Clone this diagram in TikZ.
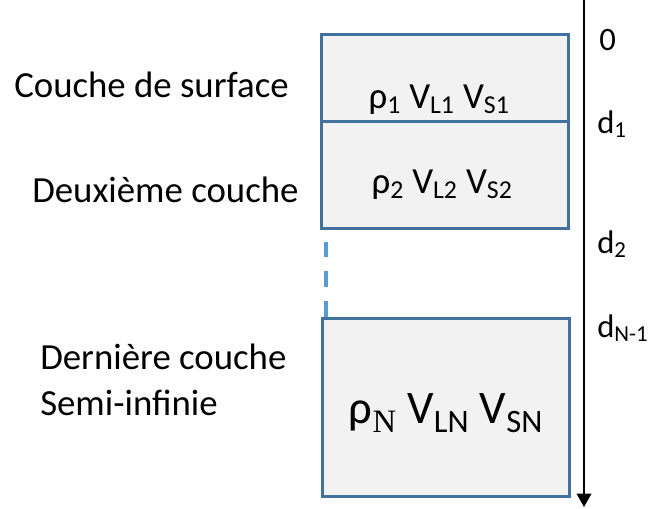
\documentclass[tikz,border=0pt]{standalone}
\usepackage{fontspec}
\setmainfont{Carlito}
\newfontfamily\serifN{Liberation Serif}
\usetikzlibrary{arrows.meta}
\definecolor{edge}{HTML}{41719C}
\definecolor{shade}{HTML}{F2F2F2}
\definecolor{gapblue}{HTML}{5B9BD5}

\begin{document}
\begin{tikzpicture}[x=.75pt,y=-.75pt,font=\fontsize{27.6}{33}\selectfont,
  layer/.style={draw=edge,fill=shade,line width=2pt,inner sep=0pt,anchor=north west,minimum width=185.25pt},
  lbl/.style={inner sep=0pt,anchor=base west},
  depth/.style={lbl,font=\fontsize{24.5}{29}\selectfont}]
\useasboundingbox (0,0) rectangle (648,508);
% layers
\node[layer,minimum height=65.25pt] (layer1) at (320,33) {};
\node[layer,minimum height=80.25pt] (layer2) at (320,120) {};
\node[layer,minimum height=133.5pt] (layerN) at (321,317) {};
\node[inner sep=0pt,anchor=base] (prop1) at (439,108) {ρ\textsubscript{1} V\textsubscript{L1} V\textsubscript{S1}};
\node[inner sep=0pt,anchor=base] (prop2) at (442,193) {ρ\textsubscript{2} V\textsubscript{L2} V\textsubscript{S2}};
\node[inner sep=0pt,anchor=base,font=\fontsize{35}{42}\selectfont] (propN) at (446,423) {ρ\textsubscript{\serifN N} V\textsubscript{LN} V\textsubscript{SN}};
% omitted layers
\coordinate (gapbot) at (326,317);
\coordinate (gaptop) at (326,242);
\draw[gapblue,line width=3pt,dash pattern=on 12pt off 10.5pt] (gapbot)--(gaptop);
% names
\node[lbl] (name1) at (14,97) {Couche de surface};
\node[lbl] (name2) at (32,202) {Deuxième couche};
\node[lbl] (nameN) at (40,369) {Dernière couche};
\node[lbl] (nameNb) at (40,415) {Semi-infinie};
% depth axis
\coordinate (axtop) at (584,0);
\coordinate (axbot) at (584,507);
\draw[line width=1pt,-{Triangle[width=11pt,length=10pt]}] (axtop)--(axbot);
\node[depth] (d0) at (599,50) {0};
\node[depth] (d1) at (597,133) {d\textsubscript{1}};
\node[depth] (d2) at (597,253) {d\textsubscript{2}};
\node[depth] (dN) at (597,337) {d\textsubscript{N-1}};
\end{tikzpicture}
\end{document}
